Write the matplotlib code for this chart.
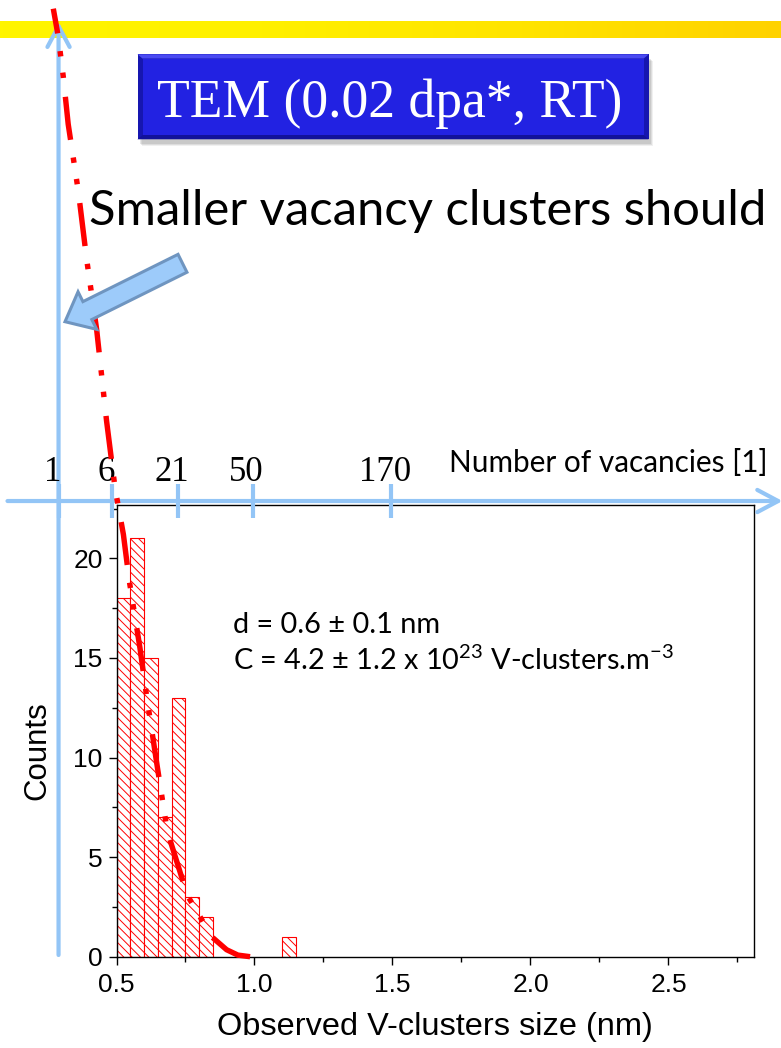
import numpy as np
import matplotlib
matplotlib.use("Agg")
import matplotlib.pyplot as plt
from matplotlib import transforms
from matplotlib.patches import Rectangle, Polygon, FancyArrow
from matplotlib.colors import LinearSegmentedColormap
from matplotlib.ticker import MultipleLocator

plt.rcParams['font.family'] = ['Liberation Sans', 'DejaVu Sans']
plt.rcParams['hatch.linewidth'] = 0.7
plt.rcParams['hatch.color'] = 'red'
plt.rcParams['mathtext.fontset'] = 'custom'
plt.rcParams['mathtext.rm'] = 'Lato'
plt.rcParams['mathtext.default'] = 'regular'

# histogram of observed cluster sizes (nm), bins of 0.05
bin_left = [0.50, 0.55, 0.60, 0.65, 0.70, 0.75, 0.80, 1.10]
counts = [18, 21, 15, 7, 13, 3, 2, 1]
bin_width = 0.05

# fitted size distribution (from the tail upwards)
fit_size = [0.984, 0.940, 0.899, 0.845, 0.803, 0.760, 0.736, 0.684, 0.646,
            0.609, 0.585, 0.546, 0.525, 0.495, 0.464, 0.428, 0.392, 0.362,
            0.325, 0.307, 0.289, 0.271]
fit_counts = [0.0, 0.08, 0.35, 1.0, 2.0, 3.0, 4.0, 6.3, 9.7,
              13.1, 15.5, 18.9, 21.2, 23.5, 26.9, 31.5, 35.0, 38.4,
              41.8, 44.2, 46.2, 47.6]

# secondary scale: number of vacancies vs cluster size (nm)
vac_labels = ['1', '6', '21', '50', '170']
vac_pos = [0.29, 0.485, 0.722, 0.993, 1.496]

x_ticks = [0.5, 1.0, 1.5, 2.0, 2.5]
y_ticks = [0, 5, 10, 15, 20]

W, H = 781, 1048
blue = '#93C5F6'

fig = plt.figure(figsize=(W / 100, H / 100), dpi=100)

# background layer: yellow banner
bg = fig.add_axes([0, 0, 1, 1], zorder=0)
bg.axis('off')
band = LinearSegmentedColormap.from_list('band', ['#FFF500', '#FFF000', '#FFE400', '#FFD200'])
bg.imshow(np.linspace(0, 1, 256)[None, :], cmap=band, aspect='auto',
          extent=(0, W, 38.3, 21.7))
bg.set_xlim(0, W)
bg.set_ylim(H, 0)

# main histogram
ax = fig.add_axes([116.5 / W, 1 - 956.7 / H, (754 - 116.5) / W, (956.7 - 505) / H], zorder=1)
ax.bar(bin_left, counts, width=bin_width, align='edge', facecolor='white',
       edgecolor='red', hatch='\\\\\\\\', linewidth=0.8, zorder=2)
ax.set_xlim(0.5, 2.81)
ax.set_ylim(0, 22.68)
ax.set_xticks(x_ticks)
ax.set_yticks(y_ticks)
ax.xaxis.set_minor_locator(MultipleLocator(0.25))
ax.yaxis.set_minor_locator(MultipleLocator(2.5))
ax.tick_params(which='major', direction='out', length=6, width=1, labelsize=19,
               top=False, right=False)
ax.tick_params(which='minor', direction='out', length=3.5, width=1,
               top=False, right=False)
ax.tick_params(axis='x', pad=6)
ax.tick_params(axis='y', pad=4)
for s in ax.spines.values():
    s.set_linewidth(1)
ax.set_xlabel('Observed V-clusters size (nm)', fontsize=23.4)
ax.xaxis.set_label_coords(0.5, -0.122)
ax.set_ylabel('Counts', fontsize=22.5)
ax.yaxis.set_label_coords(-0.101, 0.457)

ax.text(0.183, 0.716, 'd = 0.6 ± 0.1 nm', transform=ax.transAxes,
        family='Lato', fontsize=20.8, va='baseline')
ax.text(0.183, 0.635, r'C = 4.2 ± 1.2 x 10$^{23}$ V-clusters.m$^{-3}$',
        transform=ax.transAxes, family='Lato', fontsize=20.8, va='baseline')

# vacancy-number axis drawn above the histogram
vac_y = 22.88
tr_h = transforms.blended_transform_factory(fig.transFigure, ax.transData)
tr_v = transforms.blended_transform_factory(ax.transData, fig.transFigure)
arrow_kw = dict(arrowstyle='->,head_length=0.75,head_width=0.4', color=blue,
                lw=3, shrinkA=0, shrinkB=0, mutation_scale=20)
ax.annotate('', xy=(1.002, vac_y), xytext=(0.0096, vac_y), xycoords=tr_h,
            textcoords=tr_h, arrowprops=arrow_kw, annotation_clip=False)
ax.annotate('', xy=(vac_pos[0], 1 - 21.7 / H), xytext=(vac_pos[0], 1 - 955 / H),
            xycoords=tr_v, textcoords=tr_v, arrowprops=arrow_kw, annotation_clip=False)
ax.vlines(vac_pos, 22.05, 23.75, colors=blue, lw=3, clip_on=False, zorder=4)
for lab, p in zip(vac_labels, vac_pos):
    ax.annotate(lab, xy=(p, vac_y), xytext=(-4.5, 14.4), textcoords='offset points',
                ha='center', va='baseline', family='Liberation Serif', fontsize=25,
                annotation_clip=False)

# fitted distribution: long dash, dot, dot
ax.plot(fit_size, fit_counts, color='red', lw=3.9, clip_on=False, zorder=6,
        ls=(0, (8, 3.5, 1, 3, 1, 3.3)))

# foreground layer: title box, block arrow, captions
fg = fig.add_axes([0, 0, 1, 1], zorder=3)
fg.set_xlim(0, W)
fg.set_ylim(H, 0)
fg.axis('off')

for k, a in enumerate([0.12, 0.10, 0.08]):
    fg.add_patch(Rectangle((138 + 2 + k, 56 + 3 + k), 511, 85, fc='#404040', ec='none', alpha=a))
fg.add_patch(Rectangle((137.5, 54.3), 511.2, 85, fc='#1616B0', ec='none'))
fg.add_patch(Rectangle((142.5, 58.5), 501.2, 76.5, fc='#2222E2', ec='none'))
fg.add_patch(Polygon([(137.5, 54.3), (648.7, 54.3), (643.7, 58.5), (142.5, 58.5)],
                     fc='#4A4AF2', ec='none'))
fg.add_patch(Polygon([(137.5, 139.3), (648.7, 139.3), (643.7, 135), (142.5, 135)],
                     fc='#12129A', ec='none'))
fg.text(390, 116.7, 'TEM (0.02 dpa*, RT)', color='white', fontsize=38.6,
        family='Liberation Serif', ha='center', va='baseline')

fg.text(88.6, 225, 'Smaller vacancy clusters should', family='Lato', fontsize=35.3,
        ha='left', va='baseline')
fg.add_patch(FancyArrow(182.5, 263.3, -117.5, 58.4, width=20, head_width=42,
                        head_length=25, length_includes_head=True,
                        fc='#9DCBFA', ec='#6F95C0', lw=2.2))

fg.text(768, 471.7, 'Number of vacancies [1]', family='Lato', fontsize=21.4,
        ha='right', va='baseline')

fig.savefig('out.png', dpi=100)
